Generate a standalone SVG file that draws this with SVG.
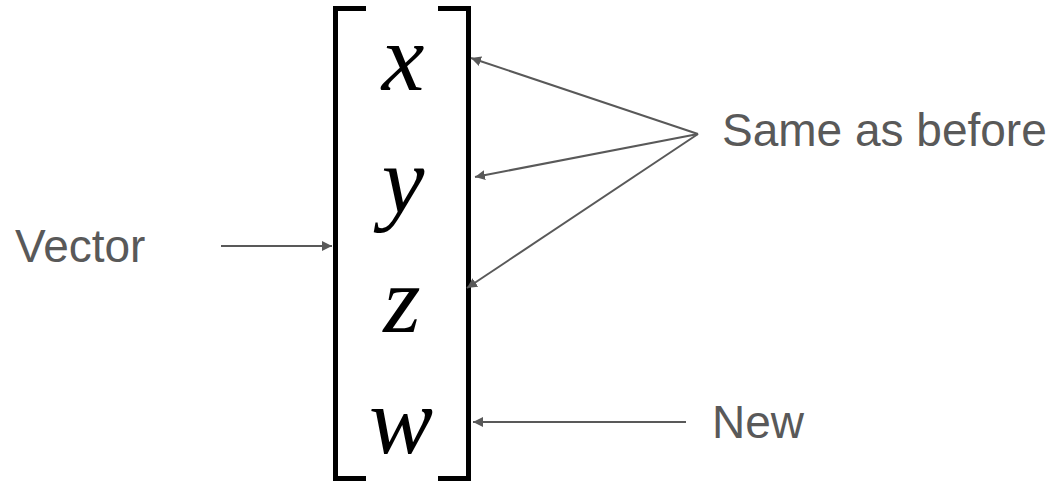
<svg xmlns="http://www.w3.org/2000/svg" width="1059" height="483" viewBox="0 0 1059 483">
<style>
.lbl{font-family:"Liberation Sans",Arial,sans-serif;font-size:46px;fill:#595959}
.var{font-family:"Liberation Serif","Times New Roman",serif;font-style:italic;font-size:96px;fill:#000;text-anchor:middle}
.br{fill:none;stroke:#000;stroke-width:5}
.conn{stroke:#595959;stroke-width:2;fill:none;marker-end:url(#ah)}
</style>
<defs>
<marker id="ah" viewBox="0 0 10 10" refX="10" refY="5" markerWidth="5" markerHeight="5" orient="auto" markerUnits="strokeWidth">
<path d="M0,0 L10,5 L0,10 z" fill="#595959"/>
</marker>
</defs>
<g id="matrix">
<path class="br" d="M366,8.5 H335.5 V478.5 H366"/>
<path class="br" d="M438,8.5 H468.5 V478.5 H438"/>
<text class="var" x="403" y="90">x</text>
<text class="var" x="403" y="213">y</text>
<text class="var" x="402" y="332">z</text>
<text class="var" x="401" y="453">w</text>
</g>
<g id="label-vector"><text class="lbl" x="15" y="262">Vector</text></g>
<g id="label-same"><text class="lbl" x="722" y="146">Same as before</text></g>
<g id="label-new"><text class="lbl" x="712" y="438">New</text></g>
<g id="connectors">
<line class="conn" x1="221" y1="246" x2="332" y2="246"/>
<line class="conn" x1="698" y1="134" x2="471" y2="58"/>
<line class="conn" x1="698" y1="134" x2="475" y2="177"/>
<line class="conn" x1="698" y1="134" x2="467" y2="288"/>
<line class="conn" x1="686" y1="422" x2="473" y2="422"/>
</g>
</svg>
